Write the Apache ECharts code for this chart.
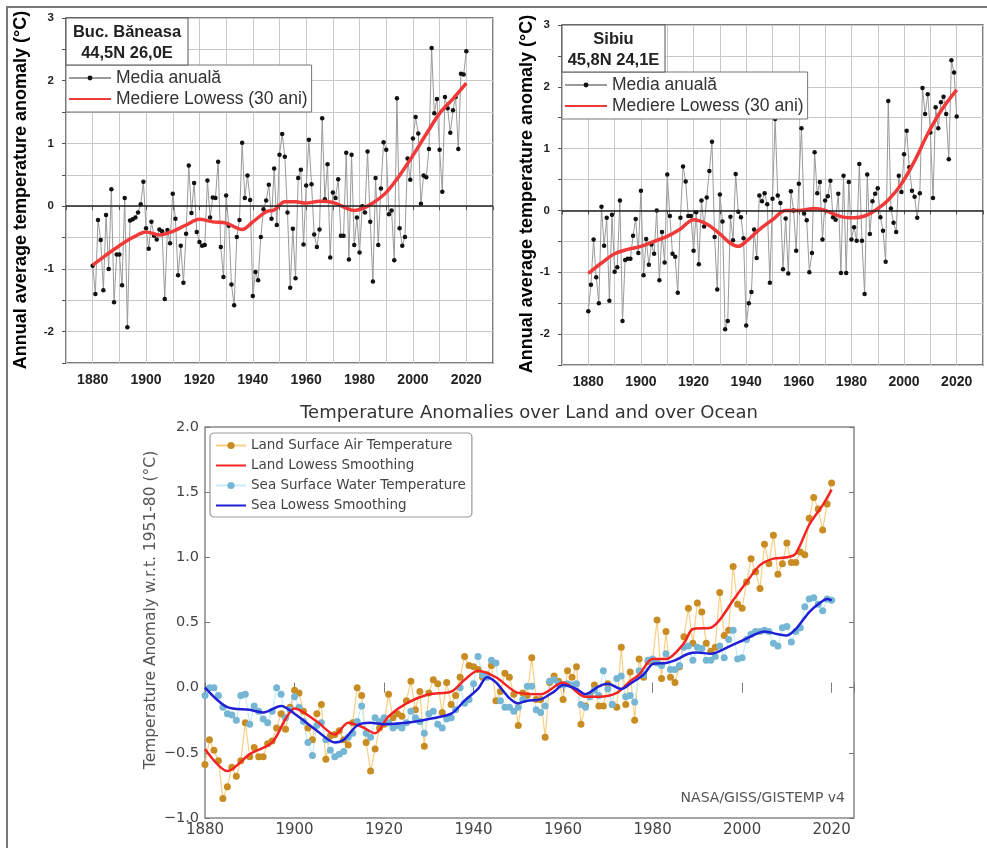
<!DOCTYPE html>
<html>
<head>
<meta charset="utf-8">
<script src="https://cdn.jsdelivr.net/npm/echarts@6/dist/echarts.min.js"></script>
<style>html,body{margin:0;padding:0;background:#fff}#c{width:987px;height:848px}</style>
</head>
<body>
<div id="c"></div>
<script>
const startYear = 1880;
const bucAnnual = [
-0.95,-1.40,-0.22,-0.54,-1.34,-0.14,-1.00,0.27,-1.53,-0.77,
-0.77,-1.26,0.13,-1.93,-0.23,-0.21,-0.18,-0.10,0.03,0.39,
-0.35,-0.68,-0.25,-0.47,-0.53,-0.37,-0.40,-1.48,-0.38,-0.59,
0.20,-0.20,-1.10,-0.63,-1.22,-0.44,0.65,-0.11,0.37,-0.41,
-0.57,-0.63,-0.62,0.41,-0.18,0.14,0.13,0.71,-0.65,-1.13,
0.17,-0.31,-1.25,-1.58,-0.49,-0.22,1.01,0.13,0.49,0.10,
-1.43,-1.05,-1.18,-0.49,-0.05,0.09,0.34,-0.20,0.60,-0.30,
0.82,1.15,0.79,-0.10,-1.30,-0.36,-1.15,0.45,0.58,-0.61,
0.33,1.06,0.35,-0.45,-0.65,-0.37,1.40,0.11,0.67,-0.82,
0.22,0.13,0.43,-0.47,-0.47,0.85,-0.85,0.82,-0.62,-0.18,
-0.74,0.00,-0.10,0.87,-0.25,-1.20,0.45,-0.62,0.28,1.02,
0.90,-0.13,-0.07,-0.86,1.72,-0.35,-0.63,-0.49,0.76,0.42,
1.08,1.42,1.16,0.04,0.49,0.46,0.91,2.52,1.48,1.71,
0.90,0.23,1.74,1.56,1.17,1.53,1.74,0.91,2.11,2.10,2.47];
const bucLowess = [[1880,-0.94],[1885,-0.78],[1890,-0.63],[1895,-0.50],[1900,-0.41],[1905,-0.46],[1910,-0.40],[1915,-0.30],[1920,-0.21],[1925,-0.25],[1930,-0.27],[1936,-0.37],[1940,-0.25],[1945,-0.09],[1948,-0.06],[1952,0.07],[1956,0.07],[1960,0.05],[1965,0.08],[1970,0.06],[1975,-0.03],[1978,-0.07],[1981,-0.04],[1985,0.05],[1990,0.22],[1995,0.49],[2000,0.81],[2005,1.15],[2010,1.48],[2015,1.71],[2020,1.96]];
const sibAnnual = [
-1.63,-1.20,-0.47,-1.08,-1.50,0.06,-0.57,-0.12,-1.46,-0.07,
-0.99,-0.92,0.16,-1.79,-0.80,-0.78,-0.78,-0.41,-0.14,-0.69,
0.32,-1.05,-0.46,-0.88,-0.55,-0.70,0.00,-1.13,-0.35,-0.84,
0.58,-0.09,-0.70,-0.75,-1.33,-0.12,0.71,0.47,-0.09,-0.09,
-0.65,-0.03,-0.87,0.16,-0.26,0.21,0.64,1.11,-0.43,-1.28,
0.26,-0.18,-1.92,-1.79,-0.10,-0.48,0.59,-0.02,-0.11,-0.45,
-1.86,-1.50,-1.32,-0.31,-0.77,0.24,0.15,0.28,0.10,-1.17,
0.19,1.48,0.24,0.12,-0.95,-0.13,-1.02,0.31,0.00,-0.65,
0.43,1.33,-0.05,-0.16,-1.00,-0.69,0.94,0.28,0.46,-0.47,
0.16,0.23,0.48,-0.11,-0.15,0.27,-1.01,0.56,-1.01,0.46,
-0.47,-0.27,-0.49,0.75,-0.49,-1.35,0.58,-0.38,0.15,0.27,
0.36,-0.11,-0.33,-0.83,1.77,0.03,-0.20,-0.35,0.56,0.30,
0.91,1.29,0.70,0.32,0.22,-0.12,0.28,1.98,1.56,1.88,
1.26,0.20,1.67,1.33,1.75,1.84,1.56,0.83,2.43,2.23,1.52];
const sibLowess = [[1880,-1.02],[1885,-0.85],[1890,-0.70],[1895,-0.63],[1900,-0.58],[1905,-0.50],[1910,-0.42],[1915,-0.30],[1920,-0.15],[1925,-0.22],[1930,-0.38],[1934,-0.53],[1937,-0.58],[1940,-0.50],[1945,-0.31],[1950,-0.15],[1955,0.00],[1960,0.00],[1966,0.03],[1970,0.00],[1976,-0.10],[1981,-0.12],[1985,-0.09],[1989,0.00],[1994,0.17],[1999,0.43],[2004,0.80],[2009,1.24],[2014,1.61],[2020,1.95]];
const landAnnual = [
-0.59,-0.40,-0.48,-0.56,-0.85,-0.76,-0.61,-0.68,-0.56,-0.27,
-0.53,-0.46,-0.53,-0.53,-0.43,-0.41,-0.31,-0.20,-0.32,-0.15,
-0.02,-0.04,-0.18,-0.31,-0.40,-0.20,-0.13,-0.55,-0.37,-0.36,
-0.33,-0.40,-0.44,-0.27,0.00,-0.06,-0.42,-0.64,-0.47,-0.31,
-0.28,-0.05,-0.23,-0.20,-0.22,-0.10,0.05,-0.17,-0.03,-0.45,
-0.04,0.06,0.03,-0.19,0.04,-0.13,-0.06,0.08,0.24,0.17,
0.16,0.14,0.08,0.10,0.17,-0.10,-0.03,0.11,0.08,-0.05,
-0.29,-0.04,-0.06,0.23,-0.09,-0.09,-0.38,0.04,0.09,0.05,
-0.09,0.13,0.08,0.16,-0.28,-0.14,-0.06,0.02,-0.14,-0.14,
0.03,-0.13,-0.15,0.31,-0.13,0.12,-0.25,0.22,0.08,0.20,
0.21,0.52,0.07,0.43,0.08,0.04,0.16,0.39,0.61,0.34,
0.65,0.58,0.34,0.28,0.31,0.73,0.40,0.44,0.93,0.64,
0.61,0.81,0.99,0.89,0.76,1.10,0.95,1.17,0.87,0.95,
1.11,0.96,0.96,1.04,1.02,1.30,1.46,1.37,1.21,1.41,1.57];
const landLowess = [[1880,-0.47],[1885,-0.64],[1890,-0.51],[1895,-0.42],[1898,-0.24],[1900,-0.16],[1905,-0.26],[1909,-0.36],[1912,-0.27],[1915,-0.30],[1918,-0.35],[1921,-0.22],[1925,-0.12],[1930,-0.05],[1935,-0.03],[1938,0.06],[1941,0.13],[1945,0.08],[1950,-0.04],[1955,-0.05],[1960,0.04],[1965,-0.07],[1968,-0.07],[1972,-0.04],[1975,0.05],[1977,0.10],[1980,0.22],[1983,0.22],[1987,0.34],[1989,0.45],[1993,0.46],[1995,0.52],[1998,0.67],[2001,0.81],[2004,0.94],[2007,0.99],[2010,1.00],[2012,1.03],[2015,1.25],[2018,1.40],[2020,1.52]];
const seaAnnual = [
-0.06,0.00,0.00,-0.06,-0.15,-0.20,-0.21,-0.25,-0.06,-0.05,
-0.28,-0.14,-0.18,-0.24,-0.27,-0.18,0.00,-0.05,-0.23,-0.17,
-0.07,-0.15,-0.26,-0.42,-0.52,-0.29,-0.27,-0.40,-0.48,-0.53,
-0.51,-0.49,-0.38,-0.35,-0.26,-0.14,-0.35,-0.38,-0.23,-0.26,
-0.23,-0.27,-0.31,-0.29,-0.31,-0.27,-0.18,-0.23,-0.26,-0.35,
-0.20,-0.18,-0.28,-0.31,-0.24,-0.23,-0.17,0.00,-0.12,-0.09,
0.03,0.24,0.10,0.08,0.21,0.19,-0.10,-0.15,-0.15,-0.18,
-0.15,-0.09,0.01,0.01,-0.17,-0.19,-0.14,0.05,0.06,0.03,
0.02,0.03,0.02,0.03,-0.13,-0.15,-0.07,-0.02,-0.06,0.13,
-0.01,-0.13,0.07,0.09,-0.07,-0.06,-0.11,0.13,0.10,0.21,
0.22,0.19,0.17,0.26,0.14,0.14,0.17,0.31,0.32,0.21,
0.31,0.30,0.21,0.21,0.24,0.32,0.23,0.37,0.44,0.22,
0.23,0.37,0.41,0.43,0.43,0.44,0.43,0.34,0.32,0.46,
0.47,0.35,0.43,0.46,0.62,0.68,0.69,0.64,0.59,0.68,0.67];
const seaLowess = [[1880,0.00],[1885,-0.15],[1890,-0.17],[1893,-0.19],[1897,-0.14],[1900,-0.20],[1905,-0.33],[1909,-0.42],[1911,-0.40],[1914,-0.29],[1917,-0.27],[1920,-0.28],[1925,-0.27],[1930,-0.24],[1935,-0.20],[1938,-0.10],[1941,-0.01],[1943,0.08],[1945,0.04],[1948,-0.08],[1950,-0.12],[1952,-0.10],[1955,-0.09],[1958,-0.03],[1960,0.02],[1963,-0.01],[1965,-0.05],[1968,0.01],[1970,0.03],[1973,-0.01],[1975,0.03],[1978,0.10],[1980,0.18],[1983,0.19],[1985,0.21],[1988,0.26],[1990,0.27],[1993,0.26],[1995,0.28],[1998,0.33],[2000,0.36],[2003,0.41],[2005,0.43],[2008,0.41],[2010,0.40],[2012,0.45],[2015,0.58],[2017,0.64],[2019,0.68],[2020,0.67]];
const topLegendNames = ['Media anuală', 'Mediere Lowess (30 ani)'];
const bottomLegendNames = ['Land Surface Air Temperature', 'Land Lowess Smoothing', 'Sea Surface Water Temperature', 'Sea Lowess Smoothing'];
const stations = [
  {name: 'Buc. Băneasa', coord: '44,5N 26,0E'},
  {name: 'Sibiu', coord: '45,8N 24,1E'}
];
const yTitleTop = 'Annual average temperature anomaly (°C)';
const bottomTitle = 'Temperature Anomalies over Land and over Ocean';
const bottomYTitle = 'Temperature Anomaly w.r.t. 1951-80 (°C)';
const sourceNote = 'NASA/GISS/GISTEMP v4';

const toPairs = arr => arr.map((v, i) => [startYear + i, v]);
const AR = 'Liberation Sans, Arial, sans-serif';
const DV = 'DejaVu Sans, sans-serif';
const HIDE = {color: 'rgba(0,0,0,0)', borderColor: 'rgba(0,0,0,0)', borderWidth: 0};

function topX(gi) {
  return {
    type: 'value', gridIndex: gi, min: 1870, max: 2030, interval: 10,
    axisLine: {show: false},
    axisTick: {show: true, length: 4, lineStyle: {color: '#555'}},
    splitLine: {show: true, lineStyle: {color: '#c8c8c8', width: 1}},
    axisLabel: {margin: 10, fontSize: 14, fontWeight: 'bold', color: '#222', fontFamily: AR,
      formatter: v => (v % 20 === 0 && v >= 1880 && v <= 2020) ? String(v) : ''}
  };
}
function topY(gi) {
  return {
    type: 'value', gridIndex: gi, min: -2.5, max: 3, interval: 0.5,
    axisLine: {show: false},
    axisTick: {show: true, length: 4, lineStyle: {color: '#555'}},
    splitLine: {show: true, lineStyle: {color: '#c8c8c8', width: 1}},
    axisLabel: {margin: 12, fontSize: 11.5, fontWeight: 'bold', color: '#222', fontFamily: AR,
      formatter: v => Number.isInteger(v) ? String(v) : ''}
  };
}
function annualSeries(gi, arr) {
  return {
    type: 'line', name: topLegendNames[0], xAxisIndex: gi, yAxisIndex: gi,
    data: toPairs(arr), symbol: 'circle', symbolSize: 4.5,
    itemStyle: {color: '#111'}, lineStyle: {color: '#9a9a9a', width: 1},
    z: 3,
    markLine: {silent: true, symbol: 'none', label: {show: false},
      lineStyle: {color: '#222', width: 1.5, type: 'solid'}, data: [{yAxis: 0}]}
  };
}
function lowessSeries(gi, arr) {
  return {
    type: 'line', name: topLegendNames[1], xAxisIndex: gi, yAxisIndex: gi,
    data: arr, smooth: 0.35, symbol: 'none', showSymbol: false,
    lineStyle: {color: '#f03a3a', width: 3.5}, itemStyle: {color: '#f03a3a'}, z: 4
  };
}
function topLegend(left, top) {
  return {
    data: [{name: topLegendNames[0]}, {name: topLegendNames[1], itemStyle: HIDE}],
    orient: 'vertical', left: left, top: top,
    itemWidth: 42, itemHeight: 6, itemGap: 1, padding: [3, 4, 3, 2],
    borderColor: '#777', borderWidth: 1, backgroundColor: '#fff',
    selectedMode: false, z: 20,
    textStyle: {fontSize: 17.5, color: '#333', fontFamily: AR, lineHeight: 20}
  };
}
function stationBox(x, y, w, h, st) {
  return {
    type: 'group', z: 100, children: [
      {type: 'rect', z: 100, shape: {x: x, y: y, width: w, height: h}, style: {fill: '#fff', stroke: '#555', lineWidth: 1}},
      {type: 'text', z: 101, x: x + w / 2, y: y + 14, style: {text: st.name, fontSize: 16.5, fontWeight: 'bold', fontFamily: AR, fill: '#222', align: 'center', verticalAlign: 'middle'}},
      {type: 'text', z: 101, x: x + w / 2, y: y + 35, style: {text: st.coord, fontSize: 16.5, fontWeight: 'bold', fontFamily: AR, fill: '#222', align: 'center', verticalAlign: 'middle'}}
    ]
  };
}
function vText(x, y, text, size, weight, color, fam) {
  return {type: 'text', x: x, y: y, rotation: Math.PI / 2,
    style: {text: text, fontSize: size, fontWeight: weight, fontFamily: fam, fill: color, align: 'center', verticalAlign: 'middle'}};
}

const option = {
  backgroundColor: '#fff',
  animation: false,
  grid: [
    {left: 66, top: 18, width: 427, height: 345, show: true, borderColor: '#555', borderWidth: 1.5, backgroundColor: '#fff'},
    {left: 562, top: 25, width: 421, height: 340, show: true, borderColor: '#555', borderWidth: 1.5, backgroundColor: '#fff'},
    {left: 205, top: 427, width: 649, height: 391, show: true, borderColor: '#888', borderWidth: 1.5, backgroundColor: '#fff'}
  ],
  xAxis: [
    topX(0), topX(1),
    {type: 'value', gridIndex: 2, min: 1880, max: 2025, interval: 20,
      axisLine: {show: false}, splitLine: {show: false},
      axisTick: {show: true, inside: true, length: 5, lineStyle: {color: '#777'}},
      axisLabel: {margin: 5, fontSize: 15, color: '#444', fontFamily: DV,
        formatter: v => v % 20 === 0 ? String(v) : ''}},
    {type: 'value', gridIndex: 2, position: 'top', min: 1880, max: 2025, interval: 20,
      axisLine: {show: false}, splitLine: {show: false},
      axisTick: {show: true, inside: true, length: 5, lineStyle: {color: '#777'}},
      axisLabel: {show: false}}
  ],
  yAxis: [
    topY(0), topY(1),
    {type: 'value', gridIndex: 2, min: -1, max: 2, interval: 0.5,
      axisLine: {show: false}, splitLine: {show: false},
      axisTick: {show: true, inside: true, length: 5, lineStyle: {color: '#777'}},
      axisLabel: {margin: 6, fontSize: 14.5, color: '#444', fontFamily: DV,
        formatter: v => (v < 0 ? '\u2212' : '') + Math.abs(v).toFixed(1)}},
    {type: 'value', gridIndex: 2, position: 'right', min: -1, max: 2, interval: 0.5,
      axisLine: {show: false}, splitLine: {show: false},
      axisTick: {show: true, inside: true, length: 5, lineStyle: {color: '#777'}},
      axisLabel: {show: false}}
  ],
  legend: [
    topLegend(66, 65),
    topLegend(562, 72),
    {data: [{name: bottomLegendNames[0]}, {name: bottomLegendNames[1], itemStyle: HIDE},
            {name: bottomLegendNames[2]}, {name: bottomLegendNames[3], itemStyle: HIDE}],
      orient: 'vertical', left: 210, top: 433,
      itemWidth: 30, itemHeight: 9, itemGap: 1, padding: [3, 6, 2, 5],
      borderColor: '#999', borderWidth: 1.2, borderRadius: 4, backgroundColor: '#fff',
      selectedMode: false,
      textStyle: {fontSize: 13.5, color: '#444', fontFamily: DV, lineHeight: 19}}
  ],
  series: [
    annualSeries(0, bucAnnual), lowessSeries(0, bucLowess),
    annualSeries(1, sibAnnual), lowessSeries(1, sibLowess),
    {type: 'line', name: bottomLegendNames[0], xAxisIndex: 2, yAxisIndex: 2,
      data: toPairs(landAnnual), symbol: 'circle', symbolSize: 7,
      itemStyle: {color: '#c98c22'}, lineStyle: {color: '#f8cf85', width: 1.2}, z: 2},
    {type: 'line', name: bottomLegendNames[1], xAxisIndex: 2, yAxisIndex: 2,
      data: landLowess, smooth: 0.3, symbol: 'none', showSymbol: false,
      itemStyle: {color: '#f42424'}, lineStyle: {color: '#f42424', width: 2.5}, z: 3},
    {type: 'line', name: bottomLegendNames[2], xAxisIndex: 2, yAxisIndex: 2,
      data: toPairs(seaAnnual), symbol: 'circle', symbolSize: 7,
      itemStyle: {color: '#74b6d3'}, lineStyle: {color: '#c6ecf6', width: 1.2}, z: 2},
    {type: 'line', name: bottomLegendNames[3], xAxisIndex: 2, yAxisIndex: 2,
      data: seaLowess, smooth: 0.3, symbol: 'none', showSymbol: false,
      itemStyle: {color: '#1f1fd6'}, lineStyle: {color: '#1f1fd6', width: 2.5}, z: 4}
  ],
  graphic: [
    {type: 'polyline', z: 100, shape: {points: [[7, 848], [7, 7], [987, 7]]}, style: {stroke: '#777', lineWidth: 2, fill: null}},
    stationBox(66, 18, 122, 47, stations[0]),
    stationBox(562, 25, 103, 47, stations[1]),
    vText(21, 190, yTitleTop, 18, 'bold', '#000', AR),
    vText(527, 194, yTitleTop, 18, 'bold', '#000', AR),
    vText(151, 610, bottomYTitle, 15.5, 'normal', '#555', DV),
    {type: 'text', x: 529, y: 413, style: {text: bottomTitle, fontSize: 18, fontFamily: DV, fill: '#333', align: 'center', verticalAlign: 'middle'}},
    {type: 'text', z: 10, x: 845, y: 798, style: {text: sourceNote, fontSize: 14, fontFamily: DV, fill: '#555', align: 'right', verticalAlign: 'middle'}}
  ]
};
const chart = echarts.init(document.getElementById('c'), null, {renderer: 'canvas'});
chart.setOption(option);
</script>
</body>
</html>
